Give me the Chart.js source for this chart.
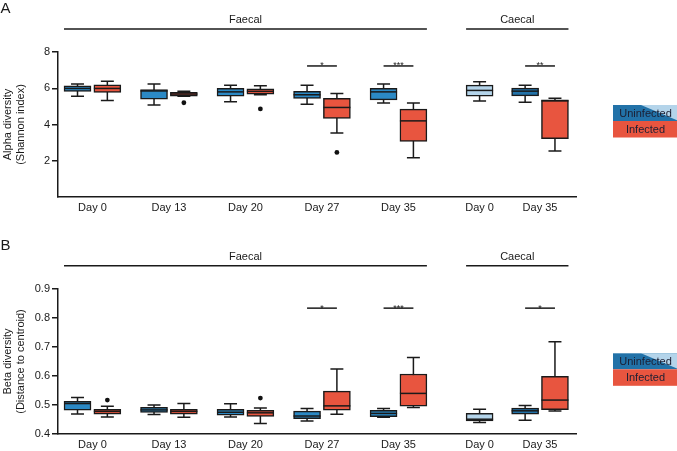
<!DOCTYPE html>
<html><head><meta charset="utf-8">
<script src="https://cdn.jsdelivr.net/npm/chart.js@4"></script>
<style>
html,body{margin:0;padding:0;background:#fff;}
#wrap{position:relative;width:677px;height:451px;overflow:hidden;background:#fff;}
.pane{position:absolute;left:0;width:677px;}
</style></head><body>
<div id="wrap">
<div class="pane" style="top:0;height:225px"><canvas id="cA"></canvas></div>
<div class="pane" style="top:225px;height:226px"><canvas id="cB"></canvas></div>
</div>
<script>
// ---------- data ----------
const days  = ['Day 0','Day 13','Day 20','Day 27','Day 35','Day 0','Day 35'];
const sites = ['Faecal','Faecal','Faecal','Faecal','Faecal','Caecal','Caecal'];
const seriesNames = ['Uninfected','Infected'];
// box stats per group: [min, q1, median, q3, max]
const alphaUninfected = [[5.56,5.82,5.99,6.14,6.23],[5.08,5.40,5.85,5.93,6.23],[5.25,5.56,5.80,5.99,6.17],[5.12,5.44,5.64,5.83,6.17],[5.18,5.36,5.80,5.99,6.23],[5.30,5.56,5.88,6.17,6.36],[5.23,5.58,5.84,6.01,6.17]];
const alphaInfected   = [[5.33,5.77,5.99,6.19,6.38],[5.56,5.56,5.68,5.77,5.84],[5.64,5.68,5.83,5.97,6.14],[3.53,4.33,4.94,5.45,5.71],[2.17,3.07,4.20,4.85,5.18],null,[2.54,3.22,5.30,5.36,5.45]];
const alphaOutliersInfected = [[1,5.20],[2,4.86],[3,2.46]]; // [group index, value]
const alphaSignificance = [[3,'*'],[4,'***'],[6,'**']];
const alphaTicks = [2,4,6,8];

const betaUninfected = [[0.469,0.482,0.505,0.513,0.526],[0.467,0.474,0.483,0.492,0.500],[0.459,0.465,0.475,0.485,0.504],[0.445,0.453,0.462,0.479,0.488],[0.458,0.460,0.471,0.482,0.488],[0.440,0.445,0.451,0.471,0.485],[0.447,0.468,0.480,0.489,0.498]];
const betaInfected   = [[0.459,0.468,0.478,0.485,0.496],[0.458,0.468,0.478,0.485,0.505],[0.436,0.461,0.473,0.482,0.490],[0.468,0.482,0.497,0.548,0.624],[0.491,0.496,0.540,0.607,0.664],null,[0.479,0.484,0.517,0.599,0.718]];
const betaOutliersInfected = [[0,0.517],[2,0.524]];
const betaSignificance = [[3,'*'],[4,'***'],[6,'*']];
const betaTicks = [0.4,0.5,0.6,0.7,0.8,0.9];

// ---------- layout / style ----------
const groupPos = [0,1,2,3,4,5.06,5.85];
const OFF = 0.195;
const C_BLUE = '#2b89c5', C_BLUE_DK = '#2272a8', C_BLUE_LT = '#b4d4ea', C_RED = '#e8553f', C_LINE = '#1a1a1a';
const FONT = "'Liberation Sans', Arial, Helvetica, sans-serif";
Chart.defaults.font.family = FONT;
Chart.defaults.font.size = 11;
Chart.defaults.color = '#1a1a1a';

function xFor(i, side, uninf, inf){
  const both = uninf[i] && inf[i];
  if (!both) return groupPos[i];
  return groupPos[i] + (side === 0 ? -OFF : OFF);
}
function uninfColor(i){
  if (sites[i] === 'Caecal') return days[i] === 'Day 0' ? C_BLUE_LT : C_BLUE_DK;
  return C_BLUE;
}

const boxPlugin = {
  id: 'boxAnno',
  beforeDatasetsDraw(chart){
    const ctx = chart.ctx, y = chart.scales.y;
    ctx.save();
    ctx.strokeStyle = C_LINE; ctx.lineWidth = 1.5;
    chart.data.datasets.forEach((ds, di) => {
      if (!ds.boxStats) return;
      chart.getDatasetMeta(di).data.forEach((el, k) => {
        const s = ds.boxStats[k];
        const yMin = y.getPixelForValue(s[0]), yMax = y.getPixelForValue(s[4]);
        const cw = el.width * 0.48;
        ctx.beginPath();
        ctx.moveTo(el.x, yMin); ctx.lineTo(el.x, yMax);
        ctx.moveTo(el.x - cw/2, yMin); ctx.lineTo(el.x + cw/2, yMin);
        ctx.moveTo(el.x - cw/2, yMax); ctx.lineTo(el.x + cw/2, yMax);
        ctx.stroke();
      });
    });
    ctx.restore();
  },
  afterDatasetsDraw(chart, args, opts){
    const ctx = chart.ctx, y = chart.scales.y, x = chart.scales.x;
    ctx.save();
    ctx.strokeStyle = C_LINE; ctx.lineWidth = 1.5;
    // medians
    chart.data.datasets.forEach((ds, di) => {
      if (!ds.boxStats) return;
      chart.getDatasetMeta(di).data.forEach((el, k) => {
        const m = y.getPixelForValue(ds.boxStats[k][2]);
        ctx.beginPath();
        ctx.moveTo(el.x - el.width/2, m); ctx.lineTo(el.x + el.width/2, m);
        ctx.stroke();
      });
    });
    // significance bars
    const sy = y.getPixelForValue(opts.sigValue);
    ctx.fillStyle = C_LINE;
    ctx.font = '9px ' + FONT;
    ctx.textAlign = 'center'; ctx.textBaseline = 'alphabetic';
    opts.sig.forEach(([g, label]) => {
      const x1 = x.getPixelForValue(groupPos[g] - OFF), x2 = x.getPixelForValue(groupPos[g] + OFF);
      ctx.beginPath(); ctx.moveTo(x1, sy); ctx.lineTo(x2, sy); ctx.stroke();
      ctx.fillText(label, (x1 + x2)/2, sy + 2.5);
    });
    // group brackets
    const ranges = {};
    chart.data.datasets.forEach((ds, di) => {
      if (!ds.boxStats) return;
      chart.getDatasetMeta(di).data.forEach((el, k) => {
        const site = sites[ds.groupIdx[k]];
        const r = ranges[site] || (ranges[site] = [Infinity, -Infinity]);
        r[0] = Math.min(r[0], el.x - el.width/2);
        r[1] = Math.max(r[1], el.x + el.width/2);
      });
    });
    ctx.font = '11px ' + FONT;
    ctx.textBaseline = 'middle';
    Object.keys(ranges).forEach(site => {
      const [a, b] = ranges[site];
      ctx.beginPath(); ctx.moveTo(a, opts.bracketY); ctx.lineTo(b, opts.bracketY); ctx.stroke();
      ctx.fillText(site, (a + b)/2, opts.bracketTextY);
    });
    // panel letter
    ctx.textAlign = 'left'; ctx.textBaseline = 'alphabetic';
    ctx.font = '15px ' + FONT;
    ctx.fillText(opts.letter, 0.5, opts.letterY);
    // legend
    const lx = 613, lw = 66, t = opts.legendTop, h1 = 16, h2 = 16.5;
    ctx.fillStyle = C_BLUE_DK; ctx.fillRect(lx, t, lw, h1);
    ctx.fillStyle = C_BLUE_LT;
    ctx.beginPath(); ctx.moveTo(lx + 28, t); ctx.lineTo(lx + lw, t); ctx.lineTo(lx + lw, t + h1); ctx.closePath(); ctx.fill();
    ctx.fillStyle = C_RED; ctx.fillRect(lx, t + h1, lw, h2);
    ctx.fillStyle = '#1c1f33';
    ctx.font = '11px ' + FONT; ctx.textAlign = 'center'; ctx.textBaseline = 'middle';
    ctx.fillText(seriesNames[0], lx + 32.5, t + h1/2 + 0.5);
    ctx.fillText(seriesNames[1], lx + 32.5, t + h1 + h2/2 + 0.5);
    ctx.restore();
  }
};

function makePanel(id, cfg){
  const {uninf, inf, outliers, ticks, yMin, yMax, title, sig, sigValue, top, xH, bracketY, bracketTextY, letter, letterY, legendTop} = cfg;
  const dsFor = (stats, side) => {
    const idx = stats.map((s,i)=> s ? i : -1).filter(i => i >= 0);
    return {
      type: 'bar',
      label: seriesNames[side],
      data: idx.map(i => ({x: xFor(i, side, uninf, inf), y: [stats[i][1], stats[i][3]]})),
      boxStats: idx.map(i => stats[i]),
      groupIdx: idx,
      backgroundColor: idx.map(i => side === 0 ? uninfColor(i) : C_RED),
      borderColor: C_LINE,
      borderWidth: 1.5,
      borderSkipped: false,
      barThickness: 27,
      grouped: false
    };
  };
  return new Chart(document.getElementById(id), {
    type: 'bar',
    data: {
      datasets: [
        dsFor(uninf, 0),
        dsFor(inf, 1),
        {
          type: 'scatter',
          label: 'Outliers',
          data: outliers.map(([g, v]) => ({x: xFor(g, 1, uninf, inf), y: v})),
          pointRadius: 2.4,
          pointBackgroundColor: '#111',
          pointBorderWidth: 0
        }
      ]
    },
    options: {
      responsive: true,
      maintainAspectRatio: false,
      animation: false,
      events: [],
      layout: {padding: {top: top, right: 101, left: 0, bottom: 0}},
      plugins: {
        legend: {display: false},
        tooltip: {enabled: false},
        boxAnno: {sig, sigValue, bracketY, bracketTextY, letter, letterY, legendTop}
      },
      scales: {
        x: {
          type: 'linear',
          offset: false,
          min: -0.45, max: 6.32,
          afterBuildTicks: s => { s.ticks = groupPos.map(v => ({value: v})); },
          afterFit: s => { s.height = xH; },
          ticks: {autoSkip: false, maxRotation: 0, padding: 4, color: '#1a1a1a',
                  callback: (v, i) => days[i]},
          grid: {display: false, drawTicks: false, tickLength: 0},
          border: {display: true, color: C_LINE, width: 1.5}
        },
        y: {
          min: yMin, max: yMax,
          afterBuildTicks: s => { s.ticks = ticks.map(v => ({value: v})); },
          afterFit: s => { s.width = 58; },
          ticks: {padding: 2, color: '#1a1a1a', callback: v => String(v)},
          grid: {drawOnChartArea: false, drawTicks: true, tickLength: 6, color: C_LINE, lineWidth: 1.5},
          border: {display: true, color: C_LINE, width: 1.5},
          title: {display: true, text: title, padding: {top: 1.5, bottom: 0}, font: {size: 11}, color: '#1a1a1a'}
        }
      }
    },
    plugins: [boxPlugin]
  });
}

makePanel('cA', {
  uninf: alphaUninfected, inf: alphaInfected, outliers: alphaOutliersInfected,
  ticks: alphaTicks, yMin: 0, yMax: 8, title: ['Alpha diversity', '(Shannon index)'],
  sig: alphaSignificance, sigValue: 7.23, top: 52, xH: 28,
  bracketY: 29, bracketTextY: 20, letter: 'A', letterY: 12.5, legendTop: 105
});
makePanel('cB', {
  uninf: betaUninfected, inf: betaInfected, outliers: betaOutliersInfected,
  ticks: betaTicks, yMin: 0.4, yMax: 0.9, title: ['Beta diversity', '(Distance to centroid)'],
  sig: betaSignificance, sigValue: 0.834, top: 64, xH: 17,
  bracketY: 40.7, bracketTextY: 31.7, letter: 'B', letterY: 24.5, legendTop: 128.3
});
</script>
</body></html>
